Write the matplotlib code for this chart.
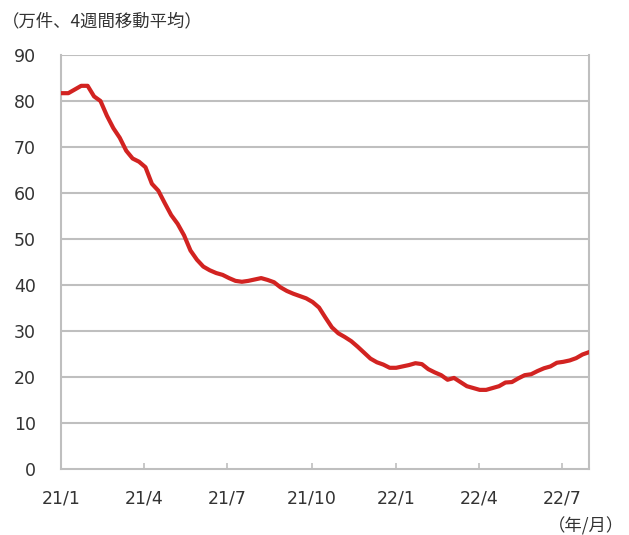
import matplotlib
matplotlib.use("Agg")
import matplotlib.pyplot as plt
import pandas as pd

plt.rcParams['font.family'] = ['DejaVu Sans', 'Noto Sans CJK JP']

values = [81.7, 81.7, 82.5, 83.3, 83.3, 81.0, 80.0, 76.8, 74.1, 72.0,
          69.2, 67.5, 66.8, 65.6, 62.0, 60.5, 57.8, 55.2, 53.3, 50.8,
          47.5, 45.5, 44.0, 43.2, 42.6, 42.2, 41.5, 40.9, 40.7, 40.9,
          41.2, 41.5, 41.1, 40.6, 39.5, 38.7, 38.1, 37.6, 37.1, 36.3,
          35.1, 32.9, 30.8, 29.5, 28.7, 27.8, 26.6, 25.3, 24.0, 23.2,
          22.7, 22.0, 22.0, 22.3, 22.6, 23.0, 22.8, 21.7, 21.0, 20.4,
          19.4, 19.8, 18.9, 18.0, 17.6, 17.2, 17.2, 17.6, 18.0, 18.8,
          18.9, 19.7, 20.4, 20.6, 21.3, 21.9, 22.3, 23.1, 23.3, 23.6,
          24.1, 24.9, 25.4]
dates = pd.date_range('2021-01-02', periods=len(values), freq='7D')

tick_dates = pd.to_datetime(['2021-01-01', '2021-04-01', '2021-07-01', '2021-10-01',
                             '2022-01-01', '2022-04-01', '2022-07-01'])
tick_labels = ['21/1', '21/4', '21/7', '21/10', '22/1', '22/4', '22/7']
yticks = [0, 10, 20, 30, 40, 50, 60, 70, 80, 90]

fig = plt.figure(figsize=(6.29, 5.35), dpi=100)
ax = fig.add_axes([61/629, 66/535, 528/629, 414/535])

grid_c = '#BFBFBF'
for y in yticks[1:]:
    ax.axhline(y, color=grid_c, lw=1.5, zorder=1)

ax.plot(dates, values, color='#D22321', lw=3.0, zorder=3, solid_joinstyle='round')

ax.set_xlim(pd.Timestamp('2021-01-01'), dates[-1])
ax.set_ylim(0, 90)
ax.set_yticks(yticks)
ax.set_yticklabels([str(v) for v in yticks])
ax.set_xticks(tick_dates)
ax.set_xticklabels(tick_labels)

for s in ['left', 'right', 'bottom']:
    ax.spines[s].set_color(grid_c)
    ax.spines[s].set_linewidth(1.5)
ax.spines['top'].set_visible(False)

ax.tick_params(axis='y', length=0, pad=18, labelsize=12.5, colors='#333333')
ax.tick_params(axis='x', direction='in', length=4, width=1.2, color=grid_c,
               pad=15, labelsize=12.5, labelcolor='#333333')

fig.text(2/629, 1 - 21/535, '（万件、4週間移動平均）', fontsize=12.5, color='#333333',
         va='center', ha='left', family=['Noto Sans CJK JP', 'DejaVu Sans'])
fig.text(624/629, 1 - 526/535, '（年/月）', fontsize=12.5, color='#333333',
         va='center', ha='right', family=['Noto Sans CJK JP', 'DejaVu Sans'])

fig.savefig('out.png', dpi=100)
